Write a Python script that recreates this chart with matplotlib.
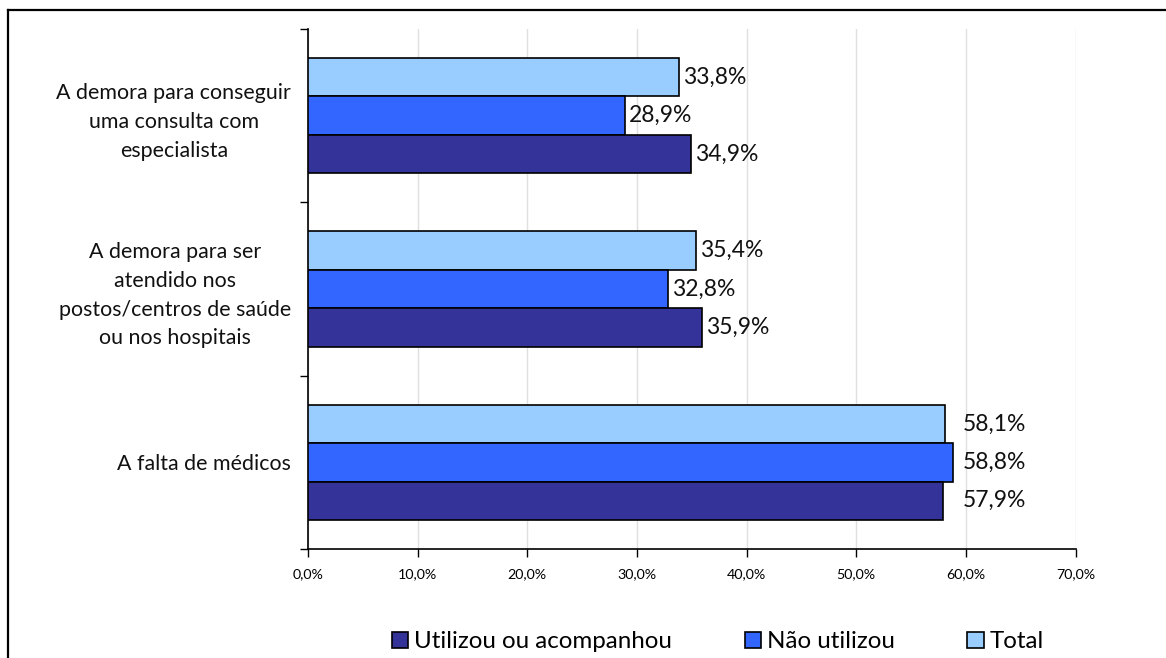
import matplotlib
matplotlib.use("Agg")
import matplotlib.pyplot as plt
from matplotlib.lines import Line2D
from matplotlib.patches import Patch
import numpy as np

categories = [
    "A demora para conseguir\numa consulta com\nespecialista",
    "A demora para ser\natendido nos\npostos/centros de saúde\nou nos hospitais",
    "A falta de médicos",
]
series_names = ["Total", "Não utilizou", "Utilizou ou acompanhou"]
total = [33.8, 35.4, 58.1]
nao_utilizou = [28.9, 32.8, 58.8]
utilizou = [34.9, 35.9, 57.9]
xticks = [0, 10, 20, 30, 40, 50, 60, 70]
xtick_labels = ["0,0%", "10,0%", "20,0%", "30,0%", "40,0%", "50,0%", "60,0%", "70,0%"]

colors = {"Total": "#99CCFF", "Não utilizou": "#3366FF", "Utilizou ou acompanhou": "#333399"}

plt.rcParams['font.family'] = ['Lato', 'DejaVu Sans']

fig = plt.figure(figsize=(11.66, 6.58), dpi=100)
ax = fig.add_axes([308/1166, 1-549/658, (1075.5-308)/1166, (549-29)/658])

series = [("Total", total), ("Não utilizou", nao_utilizou), ("Utilizou ou acompanhou", utilizou)]
h = 0.222
y = np.arange(len(categories))
for k, (name, vals) in enumerate(series):
    pos = y + (k - 1) * h
    ax.barh(pos, vals, height=h, color=colors[name], edgecolor="black", linewidth=1.2, zorder=3)

# data labels
for i in range(len(categories)):
    gvals = [s[1][i] for s in series]
    aligned = (max(gvals) - min(gvals)) < 1.5
    for k, (name, vals) in enumerate(series):
        v = vals[i]
        if aligned:
            xv, off = max(gvals), 7.5
        else:
            xv, off = v, 3
        ax.annotate(f"{v:.1f}%".replace(".", ","), xy=(xv, y[i] + (k - 1) * h),
                    xytext=(off, 0), textcoords="offset points",
                    ha="left", va="center", fontsize=16.5, color="#111111", zorder=4)

ax.set_xlim(0, 70)
ax.set_ylim(len(categories) - 0.5, -0.5)
ax.set_xticks(xticks)
ax.set_xticklabels(xtick_labels, fontsize=10.3)
ax.tick_params(axis="x", direction="out", length=6, width=1, pad=8)

ax.set_yticks(np.arange(len(categories) + 1) - 0.5)
ax.set_yticklabels([])
ax.tick_params(axis="y", which="major", direction="out", length=6, width=1)
ax.set_yticks(y, minor=True)
ax.set_yticklabels(categories, minor=True, fontsize=15.4, multialignment="center",
                   linespacing=1.54, color="#111111")
ax.tick_params(axis="y", which="minor", length=0, pad=12)

ax.xaxis.grid(True, color="#E0E0E0", linewidth=1.0, zorder=0)
ax.set_axisbelow(True)
for s in ["top", "right"]:
    ax.spines[s].set_visible(False)
ax.spines["left"].set_linewidth(1.2)
ax.spines["bottom"].set_linewidth(1.2)

handles = [Patch(facecolor=colors[n], edgecolor="black", linewidth=1.2) for n in
           ["Utilizou ou acompanhou", "Não utilizou", "Total"]]
fig.legend(handles, ["Utilizou ou acompanhou", "Não utilizou", "Total"],
           loc="center", bbox_to_anchor=(718/1166, 1-642/658), ncol=3, frameon=False,
           fontsize=17.4, handlelength=0.68, handleheight=0.68, handletextpad=0.25,
           columnspacing=3.0, borderpad=0)

# outer border (top and left visible)
fig.add_artist(Line2D([8/1166, 1.0], [1-10/658, 1-10/658], transform=fig.transFigure,
                      color="black", linewidth=1.6))
fig.add_artist(Line2D([8/1166, 8/1166], [1-10/658, 0.0], transform=fig.transFigure,
                      color="black", linewidth=1.6))

fig.savefig("out.png", dpi=100)
